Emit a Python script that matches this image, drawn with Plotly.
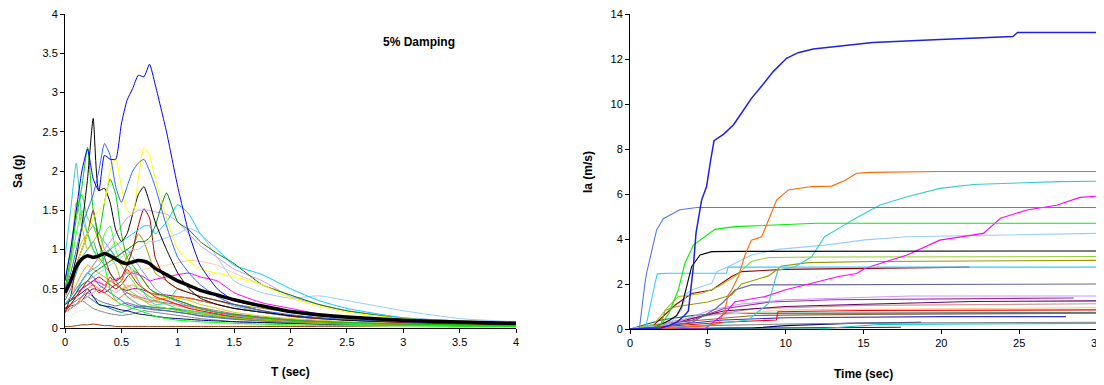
import plotly.graph_objects as go

# ---------------- Left chart: response spectra (5% damping) ----------------
T = [0, 0.05, 0.1, 0.15, 0.2, 0.25, 0.3, 0.35, 0.4, 0.45, 0.5, 0.55, 0.6, 0.65, 0.7,
     0.75, 0.8, 0.9, 1.0, 1.1, 1.2, 1.35, 1.5, 1.75, 2.0, 2.25, 2.5, 3.0, 3.5, 4.0]

sa_blue = [0.6, 1.0, 1.5, 2.0, 2.28, 1.9, 1.75, 2.2, 2.15, 2.15, 2.6, 2.9, 3.05, 3.22, 3.2,
           3.36, 3.1, 2.5, 1.8, 1.2, 0.8, 0.5, 0.35, 0.27, 0.2, 0.16, 0.13, 0.1, 0.08, 0.06]
sa_royal = [0.5, 0.7, 1.0, 1.3, 1.5, 1.7, 2.0, 2.35, 2.2, 1.8, 1.6, 1.8, 2.0, 2.1, 2.15,
            2.0, 1.8, 1.3, 0.9, 0.7, 0.55, 0.4, 0.3, 0.22, 0.17, 0.13, 0.11, 0.08, 0.06, 0.05]
sa_yellow = [0.4, 0.6, 0.8, 1.0, 1.2, 1.4, 1.5, 1.6, 2.0, 2.17, 1.8, 1.5, 1.45, 1.9, 2.3,
             2.2, 1.9, 1.4, 1.0, 0.85, 0.75, 0.7, 0.65, 0.55, 0.38, 0.28, 0.2, 0.12, 0.09, 0.07]
sa_black = [0.4, 0.6, 0.9, 1.3, 1.9, 2.67, 1.75, 1.78, 1.6, 1.25, 1.1, 1.2, 1.45, 1.7, 1.8,
            1.6, 1.35, 1.0, 0.7, 0.5, 0.38, 0.3, 0.25, 0.2, 0.16, 0.13, 0.1, 0.08, 0.06, 0.05]
sa_lime = [0.5, 0.9, 1.4, 1.8, 2.3, 1.5, 1.2, 1.6, 1.9, 1.7, 1.2, 0.9, 0.8, 0.7, 0.6,
           0.5, 0.45, 0.4, 0.35, 0.3, 0.25, 0.2, 0.17, 0.13, 0.1, 0.08, 0.07, 0.05, 0.04, 0.03]
sa_dkgreen = [0.3, 0.35, 0.45, 0.55, 0.6, 0.7, 0.75, 0.8, 0.85, 0.9, 0.95, 1.0, 1.05, 1.1, 1.1,
              1.15, 1.3, 1.72, 1.35, 1.25, 1.1, 0.95, 0.82, 0.55, 0.42, 0.3, 0.22, 0.12, 0.08, 0.06]
sa_sky = [0.3, 0.4, 0.5, 0.6, 0.7, 0.75, 0.8, 0.9, 1.0, 1.05, 1.1, 1.15, 1.2, 1.25, 1.3,
          1.3, 1.2, 1.35, 1.57, 1.45, 1.2, 1.0, 0.8, 0.68, 0.5, 0.35, 0.25, 0.13, 0.09, 0.07]
sa_lavender = [0.3, 0.4, 0.5, 0.6, 0.7, 0.8, 0.9, 1.0, 1.1, 1.2, 1.3, 1.4, 1.45, 1.5, 1.5,
               1.5, 1.48, 1.45, 1.35, 1.2, 1.05, 0.9, 0.75, 0.6, 0.4, 0.3, 0.22, 0.13, 0.09, 0.07]
sa_dkred = [0.2, 0.4, 0.8, 1.0, 1.2, 1.5, 1.1, 0.9, 0.7, 0.6, 0.65, 0.8, 1.0, 1.3, 1.52,
            1.4, 0.9, 0.6, 0.5, 0.45, 0.4, 0.35, 0.3, 0.22, 0.15, 0.12, 0.1, 0.07, 0.05, 0.04]
sa_turq = [0.9, 1.5, 2.1, 1.4, 1.2, 1.0, 0.9, 0.95, 1.0, 0.9, 0.85, 0.8, 0.75, 0.6, 0.45,
           0.35, 0.3, 0.32, 0.5, 0.45, 0.4, 0.35, 0.28, 0.2, 0.15, 0.12, 0.1, 0.07, 0.05, 0.04]
sa_olive = [0.3, 0.4, 0.5, 0.6, 0.7, 0.8, 0.9, 0.95, 1.0, 0.9, 0.8, 0.9, 1.0, 1.2, 1.1,
            0.9, 0.7, 0.6, 0.5, 0.45, 0.4, 0.35, 0.3, 0.25, 0.2, 0.15, 0.12, 0.08, 0.06, 0.05]
sa_peach = [0.2, 0.25, 0.3, 0.35, 0.4, 0.45, 0.5, 0.55, 0.6, 0.6, 0.65, 0.7, 0.72, 0.74, 0.75,
            0.76, 0.78, 0.8, 0.83, 0.86, 0.85, 0.8, 0.7, 0.55, 0.42, 0.3, 0.22, 0.13, 0.09, 0.07]
sa_magenta = [0.3, 0.35, 0.45, 0.5, 0.55, 0.6, 0.58, 0.55, 0.6, 0.62, 0.65, 0.7, 0.7, 0.68, 0.65,
              0.6, 0.62, 0.65, 0.68, 0.7, 0.65, 0.6, 0.45, 0.32, 0.25, 0.18, 0.14, 0.09, 0.06, 0.05]
sa_red = [0.2, 0.3, 0.4, 0.5, 0.6, 0.55, 0.45, 0.5, 0.65, 0.55, 0.6, 0.75, 0.65, 0.55, 0.5,
          0.45, 0.4, 0.35, 0.3, 0.25, 0.22, 0.18, 0.14, 0.1, 0.08, 0.07, 0.06, 0.05, 0.04, 0.03]
sa_ltblue = [0.3, 0.4, 0.5, 0.55, 0.6, 0.65, 0.7, 0.75, 0.8, 0.85, 0.9, 0.95, 1.0, 1.0, 1.05,
             1.1, 1.1, 1.15, 1.2, 1.27, 1.2, 0.9, 0.6, 0.45, 0.38, 0.41, 0.35, 0.22, 0.12, 0.08]
sa_yelgreen = [0.5, 0.8, 1.6, 1.3, 1.0, 1.1, 1.2, 1.0, 0.9, 0.8, 0.6, 0.5, 0.45, 0.4, 0.35,
               0.3, 0.28, 0.25, 0.22, 0.2, 0.18, 0.15, 0.13, 0.1, 0.08, 0.07, 0.06, 0.05, 0.04, 0.03]
sa_navy = [0.3, 0.35, 0.4, 0.45, 0.5, 0.4, 0.3, 0.28, 0.27, 0.25, 0.23, 0.22, 0.2, 0.18, 0.17,
           0.16, 0.15, 0.13, 0.12, 0.11, 0.1, 0.09, 0.08, 0.07, 0.06, 0.05, 0.05, 0.04, 0.03, 0.03]
sa_purple = [0.2, 0.25, 0.3, 0.35, 0.45, 0.5, 0.48, 0.45, 0.5, 0.55, 0.5, 0.48, 0.5, 0.5, 0.48,
             0.45, 0.43, 0.42, 0.4, 0.38, 0.35, 0.3, 0.25, 0.2, 0.15, 0.12, 0.1, 0.07, 0.05, 0.04]
sa_orange = [0.2, 0.25, 0.3, 0.4, 0.5, 0.55, 0.5, 0.45, 0.4, 0.35, 0.4, 0.45, 0.4, 0.38, 0.35,
             0.33, 0.35, 0.38, 0.4, 0.38, 0.35, 0.3, 0.25, 0.2, 0.16, 0.13, 0.1, 0.07, 0.05, 0.04]
sa_teal = [0.25, 0.28, 0.3, 0.35, 0.4, 0.35, 0.3, 0.28, 0.25, 0.22, 0.2, 0.22, 0.25, 0.27, 0.28,
           0.27, 0.26, 0.25, 0.24, 0.22, 0.2, 0.17, 0.14, 0.11, 0.09, 0.07, 0.06, 0.05, 0.04, 0.03]
sa_gray = [0.2, 0.25, 0.3, 0.35, 0.3, 0.25, 0.22, 0.2, 0.18, 0.17, 0.16, 0.17, 0.18, 0.2, 0.22,
           0.21, 0.2, 0.18, 0.16, 0.14, 0.12, 0.1, 0.08, 0.07, 0.06, 0.05, 0.04, 0.03, 0.03, 0.02]
sa_palegreen = [0.15, 0.17, 0.2, 0.22, 0.25, 0.3, 0.32, 0.3, 0.28, 0.25, 0.2, 0.18, 0.16, 0.14, 0.13,
                0.12, 0.11, 0.1, 0.09, 0.08, 0.07, 0.06, 0.05, 0.04, 0.04, 0.03, 0.03, 0.02, 0.02, 0.02]
sa_brown = [0.02, 0.02, 0.03, 0.04, 0.04, 0.05, 0.04, 0.03, 0.03, 0.02, 0.02, 0.02, 0.02, 0.02, 0.02,
            0.02, 0.02, 0.02, 0.02, 0.02, 0.02, 0.02, 0.02, 0.02, 0.02, 0.02, 0.02, 0.02, 0.02, 0.02]
sa_green = [0.6, 1.0, 1.5, 1.7, 1.4, 1.3, 1.1, 0.8, 0.5, 0.35, 0.3, 0.28, 0.25, 0.23, 0.2,
            0.18, 0.15, 0.12, 0.1, 0.09, 0.08, 0.07, 0.06, 0.05, 0.04, 0.035, 0.03, 0.03, 0.02, 0.02]
sa_slate = [0.25, 0.3, 0.35, 0.4, 0.45, 0.4, 0.35, 0.32, 0.3, 0.28, 0.3, 0.32, 0.3, 0.28, 0.26,
            0.25, 0.24, 0.22, 0.2, 0.18, 0.15, 0.13, 0.11, 0.09, 0.07, 0.06, 0.05, 0.04, 0.03, 0.03]
sa_gold = [0.3, 0.4, 0.55, 0.7, 0.8, 0.75, 0.7, 0.65, 0.6, 0.55, 0.5, 0.52, 0.55, 0.5, 0.45,
           0.4, 0.38, 0.35, 0.3, 0.27, 0.24, 0.2, 0.16, 0.12, 0.1, 0.08, 0.07, 0.05, 0.04, 0.03]
sa_crimson = [0.25, 0.3, 0.4, 0.5, 0.55, 0.6, 0.65, 0.6, 0.55, 0.5, 0.55, 0.65, 0.72, 0.7, 0.6,
              0.5, 0.45, 0.4, 0.35, 0.3, 0.25, 0.2, 0.17, 0.13, 0.1, 0.08, 0.07, 0.05, 0.04, 0.03]
sa_steel = [0.3, 0.35, 0.45, 0.6, 0.7, 0.65, 0.55, 0.5, 0.45, 0.4, 0.35, 0.3, 0.28, 0.26, 0.25,
            0.24, 0.23, 0.22, 0.2, 0.18, 0.16, 0.14, 0.12, 0.1, 0.08, 0.06, 0.05, 0.04, 0.03, 0.03]
sa_seagreen = [0.35, 0.5, 0.7, 0.9, 1.0, 1.1, 0.9, 0.8, 0.7, 0.6, 0.5, 0.4, 0.35, 0.3, 0.28,
               0.27, 0.26, 0.25, 0.23, 0.2, 0.18, 0.15, 0.12, 0.09, 0.07, 0.06, 0.05, 0.04, 0.03, 0.03]
sa_mauve = [0.2, 0.25, 0.3, 0.35, 0.4, 0.45, 0.5, 0.55, 0.6, 0.55, 0.5, 0.45, 0.42, 0.4, 0.38,
            0.36, 0.34, 0.32, 0.3, 0.28, 0.26, 0.22, 0.18, 0.14, 0.11, 0.09, 0.07, 0.05, 0.04, 0.03]
sa_khaki = [0.4, 0.6, 0.9, 1.1, 1.2, 1.0, 0.85, 0.9, 1.0, 1.1, 1.0, 0.85, 0.7, 0.6, 0.5,
            0.45, 0.42, 0.4, 0.38, 0.35, 0.3, 0.25, 0.2, 0.15, 0.12, 0.1, 0.08, 0.06, 0.05, 0.04]
sa_pink = [0.3, 0.35, 0.45, 0.5, 0.6, 0.65, 0.6, 0.55, 0.5, 0.45, 0.5, 0.55, 0.5, 0.45, 0.4,
           0.35, 0.33, 0.3, 0.28, 0.25, 0.22, 0.18, 0.15, 0.11, 0.09, 0.07, 0.06, 0.05, 0.04, 0.03]
sa_cornf2 = [0.4, 0.55, 0.8, 1.0, 1.2, 1.3, 1.2, 1.1, 1.0, 0.9, 0.95, 1.0, 0.9, 0.8, 0.7,
             0.6, 0.5, 0.4, 0.33, 0.28, 0.25, 0.2, 0.16, 0.12, 0.1, 0.08, 0.07, 0.05, 0.04, 0.03]
sa_bright = [0.5, 0.8, 1.2, 1.5, 1.2, 1.0, 0.9, 1.2, 1.3, 1.0, 0.8, 0.7, 0.6, 0.5, 0.45,
             0.4, 0.35, 0.3, 0.25, 0.22, 0.2, 0.16, 0.13, 0.1, 0.08, 0.06, 0.05, 0.04, 0.03, 0.03]
sa_mean = [0.45, 0.6, 0.78, 0.88, 0.92, 0.9, 0.92, 0.95, 0.92, 0.88, 0.84, 0.82, 0.84, 0.86, 0.85,
           0.82, 0.76, 0.68, 0.6, 0.54, 0.48, 0.42, 0.36, 0.28, 0.21, 0.17, 0.14, 0.1, 0.075, 0.06]

spectra = [
    (sa_brown, "#993300"), (sa_palegreen, "#CCFFCC"), (sa_gray, "#808080"), (sa_teal, "#008080"),
    (sa_slate, "#666699"), (sa_navy, "#000080"), (sa_purple, "#800080"), (sa_orange, "#FF6600"),
    (sa_steel, "#3366CC"), (sa_mauve, "#996699"), (sa_pink, "#FF99CC"), (sa_gold, "#FF9900"),
    (sa_crimson, "#CC0000"), (sa_seagreen, "#339966"), (sa_khaki, "#CCCC00"), (sa_cornf2, "#6699FF"),
    (sa_bright, "#33FF33"),
    (sa_red, "#FF0000"), (sa_magenta, "#FF00FF"), (sa_peach, "#FFCC99"), (sa_green, "#00FF00"),
    (sa_yelgreen, "#99CC00"), (sa_olive, "#999900"), (sa_turq, "#33CCCC"), (sa_dkred, "#990000"),
    (sa_ltblue, "#99CCFF"), (sa_lavender, "#CC99FF"), (sa_sky, "#00CCFF"), (sa_dkgreen, "#008000"),
    (sa_lime, "#00CC00"), (sa_black, "#000000"), (sa_yellow, "#FFFF00"), (sa_royal, "#3366FF"),
    (sa_blue, "#0000FF"),
]

# ---------------- Right chart: Arias intensity ----------------
ia_blue_t = [0, 2, 2.5, 3, 3.5, 3.75, 4.07, 4.24, 4.6, 4.92, 5.18, 5.4, 6.0, 6.64, 7.17, 7.8, 8.46,
             9.2, 10.06, 10.8, 11.77, 13.9, 15.6, 19.9, 24.6, 24.9, 30]
ia_blue_v = [0, 0.05, 0.15, 0.3, 0.6, 0.8, 2.77, 4.26, 5.73, 6.33, 7.5, 8.37, 8.65, 9.07, 9.6,
             10.25, 10.8, 11.44, 12.03, 12.28, 12.44, 12.6, 12.73, 12.87, 13.0, 13.18, 13.18]
ia_corn_t = [0, 0.6, 0.96, 1.07, 1.71, 2.14, 3.2, 4.3, 30]
ia_corn_v = [0, 0, 2.04, 2.5, 4.4, 4.9, 5.3, 5.4, 5.4]
ia_cyan_t = [0, 1.0, 1.6, 1.75, 2.5, 6.2, 6.3, 30]
ia_cyan_v = [0, 0.05, 2.0, 2.45, 2.48, 2.48, 2.75, 2.75]
ia_green_t = [0, 1.5, 2.0, 2.5, 3.1, 3.53, 4.07, 4.82, 5.46, 6.74, 9.3, 12, 30]
ia_green_v = [0, 0.05, 0.2, 0.7, 1.73, 2.92, 3.73, 4.1, 4.43, 4.55, 4.62, 4.7, 4.7]
ia_black_t = [0, 1.5, 2.57, 3.0, 3.32, 3.64, 3.96, 4.5, 5.25, 7, 30]
ia_black_v = [0, 0.05, 0.4, 0.6, 1.0, 1.88, 2.77, 3.29, 3.44, 3.45, 3.47]
ia_orange_t = [0, 3, 5.0, 5.67, 6.1, 6.3, 6.53, 6.96, 7.39, 7.8, 8.46, 9.1, 9.42, 10.17, 11.67,
               12.95, 13.8, 14.56, 15.4, 19.9, 30]
ia_orange_v = [0, 0.05, 0.15, 0.25, 0.84, 1.5, 1.73, 2.33, 3.29, 3.95, 4.1, 5.14, 5.73, 6.18, 6.33,
               6.35, 6.6, 6.92, 6.96, 7.0, 7.0]
ia_turq_t = [0, 4, 7.6, 8.9, 9.5, 10.6, 11.67, 12.5, 13.6, 14.3, 16.06, 17.8, 19.9, 22.05, 25.3, 27.5, 30]
ia_turq_v = [0, 0.1, 0.4, 1.14, 2.62, 2.77, 3.21, 4.1, 4.55, 4.84, 5.51, 5.88, 6.25, 6.42, 6.5, 6.55, 6.57]
ia_ltblue_t = [0, 2.5, 3.3, 3.64, 3.96, 5.25, 5.57, 6.3, 7.8, 9.5, 12.5, 15.1, 17.8, 22, 28.5, 30]
ia_ltblue_v = [0, 0.2, 0.84, 1.58, 1.73, 2.03, 2.55, 2.77, 3.29, 3.54, 3.73, 3.96, 4.1, 4.16, 4.25, 4.25]
ia_ygreen_t = [0, 1.5, 2.0, 2.46, 3.1, 4.6, 5.67, 6.74, 7.8, 8.9, 12, 30]
ia_ygreen_v = [0, 0.2, 0.6, 1.0, 1.44, 1.58, 1.88, 2.33, 3.0, 3.18, 3.2, 3.22]
ia_olive_t = [0, 2.0, 2.25, 3.0, 5.0, 6.53, 7.17, 8.9, 9.75, 11.45, 15.6, 30]
ia_olive_v = [0, 0.2, 0.84, 1.0, 1.2, 1.51, 2.0, 2.36, 2.8, 2.95, 3.0, 3.05]
ia_dkred_t = [0, 1.4, 2.5, 2.9, 3.96, 5.25, 6.53, 7.17, 9.95, 15.1, 21.8]
ia_dkred_v = [0, 0.1, 0.8, 1.07, 1.58, 1.73, 2.33, 2.55, 2.65, 2.7, 2.75]
ia_slate_t = [0, 4, 5.5, 6.0, 6.74, 7.8, 30]
ia_slate_v = [0, 0.3, 0.9, 1.2, 1.73, 1.96, 2.0]
ia_magenta_t = [0, 4.8, 6.1, 6.74, 8.67, 9.95, 11.67, 13.4, 14.56, 15.1, 17.8, 19.9, 22.7, 23.8,
                25.5, 27.4, 28.9, 30]
ia_magenta_v = [0, 0.0, 0.7, 1.21, 1.44, 1.73, 2.03, 2.33, 2.47, 2.7, 3.29, 3.95, 4.25, 4.92,
                5.29, 5.5, 5.85, 5.9]
ia_lav_t = [0, 3, 5, 7, 10, 14, 18, 30]
ia_lav_v = [0, 0.3, 0.8, 1.1, 1.3, 1.4, 1.47, 1.47]
ia_purple_t = [0, 4, 6, 9, 13, 28.5]
ia_purple_v = [0, 0.4, 0.9, 1.2, 1.3, 1.38]
ia_dkpurp_t = [0, 3, 6, 10, 15, 22, 30]
ia_dkpurp_v = [0, 0.3, 0.8, 1.0, 1.1, 1.22, 1.25]
ia_rose_t = [0, 4, 8, 15, 30]
ia_rose_v = [0, 0.5, 0.9, 1.05, 1.12]
ia_red_t = [0, 2, 4, 6, 9.4, 9.5, 15, 30]
ia_red_v = [0, 0.1, 0.2, 0.3, 0.4, 0.77, 0.82, 0.85]
ia_teal_t = [0, 2, 4, 6, 30]
ia_teal_v = [0, 0.4, 0.6, 0.7, 0.72]
ia_blue2_t = [0, 3, 6, 10, 20, 28.0]
ia_blue2_v = [0, 0.2, 0.4, 0.5, 0.55, 0.55]
ia_gray_t = [0, 5, 10, 15, 30]
ia_gray_v = [0, 0.15, 0.22, 0.26, 0.3]
ia_cyan2_t = [0, 12, 14, 16, 30]
ia_cyan2_v = [0, 0.0, 0.1, 0.2, 0.25]
ia_dkred2_t = [0, 5, 10, 17.4]
ia_dkred2_v = [0, 0.03, 0.06, 0.08]
ia_brown_t = [0, 3, 8, 15, 30]
ia_brown_v = [0, 0.3, 0.6, 0.65, 0.7]
ia_peach_t = [0, 5, 10, 20, 30]
ia_peach_v = [0, 0.6, 0.85, 0.9, 0.95]
ia_navy_t = [0, 8, 10, 14, 18.7]
ia_navy_v = [0, 0.05, 0.15, 0.25, 0.3]

arias = [
    (ia_dkred2_t, ia_dkred2_v, "#990000"), (ia_navy_t, ia_navy_v, "#000080"),
    (ia_cyan2_t, ia_cyan2_v, "#00CCCC"), (ia_gray_t, ia_gray_v, "#808080"),
    (ia_blue2_t, ia_blue2_v, "#3333CC"), (ia_teal_t, ia_teal_v, "#006666"),
    (ia_brown_t, ia_brown_v, "#996633"), (ia_peach_t, ia_peach_v, "#FFCC99"),
    (ia_red_t, ia_red_v, "#FF0000"), (ia_rose_t, ia_rose_v, "#CC9999"),
    (ia_dkpurp_t, ia_dkpurp_v, "#660066"), (ia_purple_t, ia_purple_v, "#993399"),
    (ia_lav_t, ia_lav_v, "#CC99FF"), (ia_slate_t, ia_slate_v, "#666699"),
    (ia_dkred_t, ia_dkred_v, "#990000"), (ia_olive_t, ia_olive_v, "#999900"),
    (ia_ygreen_t, ia_ygreen_v, "#99CC33"), (ia_ltblue_t, ia_ltblue_v, "#99CCFF"),
    (ia_magenta_t, ia_magenta_v, "#FF00FF"), (ia_turq_t, ia_turq_v, "#33CCCC"),
    (ia_cyan_t, ia_cyan_v, "#33CCFF"), (ia_black_t, ia_black_v, "#000000"),
    (ia_green_t, ia_green_v, "#00EE00"), (ia_orange_t, ia_orange_v, "#FF6600"),
    (ia_corn_t, ia_corn_v, "#5577EE"), (ia_blue_t, ia_blue_v, "#2020E0"),
]

fig = go.Figure()
for vals, col in spectra:
    fig.add_trace(go.Scatter(x=T, y=vals, mode="lines", line=dict(color=col, width=1, shape="spline", smoothing=0.5),
                             xaxis="x", yaxis="y", showlegend=False, hoverinfo="skip"))
fig.add_trace(go.Scatter(x=T, y=sa_mean, mode="lines", line=dict(color="#000000", width=3.5, shape="spline", smoothing=0.5),
                         xaxis="x", yaxis="y", showlegend=False, hoverinfo="skip"))

for tt, vv, col in arias:
    w = 1.5 if col == "#2020E0" else 1.1
    fig.add_trace(go.Scatter(x=tt, y=vv, mode="lines", line=dict(color=col, width=w),
                             xaxis="x2", yaxis="y2", showlegend=False, hoverinfo="skip"))

# the page body keeps its default 8px margin, so the figure sits at (8, 8) in the window
OFF = 8
W, H = 1104 - OFF, 385 - OFF


def px(x):
    return (x - OFF) / W


def py(y):
    return 1 - (y - OFF) / H


FONT = "Liberation Sans, Arial, sans-serif"
ax_common = dict(showline=True, linecolor="black", linewidth=1, ticks="outside", ticklen=4,
                 tickcolor="black", showgrid=False, zeroline=False, ticklabeloverflow="allow",
                 tickfont=dict(family=FONT, size=11, color="black"))

title_font = dict(family=FONT, size=12, color="black")
fig.update_layout(
    width=W, height=H, margin=dict(l=0, r=0, t=0, b=0, autoexpand=False),
    paper_bgcolor="white", plot_bgcolor="white",
    xaxis=dict(domain=[px(65), px(516)], range=[0, 4], tickvals=[0, 0.5, 1, 1.5, 2, 2.5, 3, 3.5, 4],
               ticktext=["0", "0.5", "1", "1.5", "2", "2.5", "3", "3.5", "4"], anchor="y", **ax_common),
    yaxis=dict(domain=[py(328), py(14)], range=[0, 4], tickvals=[0, 0.5, 1, 1.5, 2, 2.5, 3, 3.5, 4],
               ticktext=["0", "0.5", "1", "1.5", "2", "2.5", "3", "3.5", "4"], anchor="x", **ax_common),
    xaxis2=dict(domain=[px(630), px(1097)], range=[0, 30], tickvals=[0, 5, 10, 15, 20, 25, 30],
                anchor="y2", **ax_common),
    yaxis2=dict(domain=[py(329), py(14)], range=[0, 14], tickvals=[0, 2, 4, 6, 8, 10, 12, 14],
                anchor="x2", **ax_common),
    annotations=[
        dict(text="<b>5% Damping</b>", x=px(419), y=py(42), xref="paper", yref="paper",
             xanchor="center", yanchor="middle", showarrow=False, font=title_font),
        dict(text="<b>Sa (g)</b>", x=px(18), y=py(172), xref="paper", yref="paper", textangle=-90,
             xanchor="center", yanchor="middle", showarrow=False, font=title_font),
        dict(text="<b>T (sec)</b>", x=px(290), y=py(372), xref="paper", yref="paper",
             xanchor="center", yanchor="middle", showarrow=False, font=title_font),
        dict(text="<b>Ia (m/s)</b>", x=px(588), y=py(172), xref="paper", yref="paper", textangle=-90,
             xanchor="center", yanchor="middle", showarrow=False, font=title_font),
        dict(text="<b>Time (sec)</b>", x=px(863), y=py(374), xref="paper", yref="paper",
             xanchor="center", yanchor="middle", showarrow=False, font=title_font),
    ],
)

fig.write_html("out.html")
